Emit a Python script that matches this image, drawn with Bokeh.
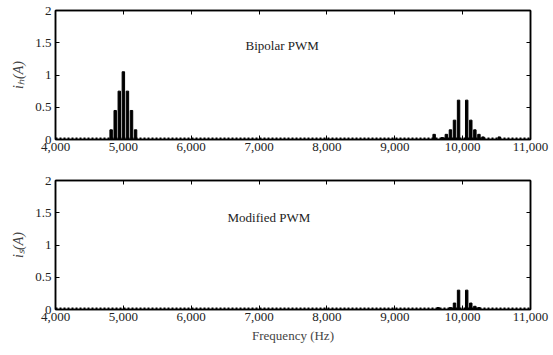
from bokeh.plotting import figure
from bokeh.layouts import column
from bokeh.models import LinearAxis, NumeralTickFormatter, FixedTicker, Range1d, Label
from bokeh.embed import file_html
from bokeh.resources import INLINE

# Data: harmonic spectrum (Hz, A)
bip_freq = [4820, 4880, 4940, 5000, 5060, 5120, 5180,
            9580, 9700, 9760, 9820, 9880, 9940, 10060, 10120, 10180, 10240, 10300, 10540]
bip_amp = [0.15, 0.45, 0.75, 1.05, 0.75, 0.45, 0.15,
           0.08, 0.03, 0.08, 0.15, 0.30, 0.61, 0.61, 0.30, 0.15, 0.08, 0.04, 0.04]

mod_freq = [9640, 9820, 9880, 9940, 10060, 10120, 10180, 10240]
mod_amp = [0.03, 0.03, 0.10, 0.30, 0.30, 0.10, 0.05, 0.03]

x_ticks = [4000, 5000, 6000, 7000, 8000, 9000, 10000, 11000]
y_ticks = [0, 0.5, 1, 1.5, 2]
titles = ["Bipolar PWM", "Modified PWM"]
ylabels = ["i\u2095(A)", "i\u209b(A)"]

FONT = "Liberation Serif"


def make_panel(freq, amp, title, ylabel, height, top, bottom, xlabel, title_xy):
    p = figure(width=553, height=height, output_backend="svg", toolbar_location=None,
               x_range=Range1d(4000, 11000), y_range=Range1d(0, 2),
               min_border_left=55, min_border_right=23, min_border_top=top,
               min_border_bottom=bottom, x_axis_location=None, y_axis_location=None)
    p.grid.visible = False
    p.outline_line_color = "black"
    p.outline_line_width = 1.5
    p.background_fill_color = "white"
    p.border_fill_color = "white"

    def style(ax, labels=True):
        ax.axis_line_color = "black"
        ax.axis_line_width = 1.5
        ax.major_tick_in = 4
        ax.major_tick_out = 0
        ax.major_tick_line_color = "black"
        ax.minor_tick_line_color = None
        ax.major_label_text_font = FONT
        ax.major_label_text_font_size = "13px"
        ax.major_label_text_color = "#222222"
        ax.axis_label_text_font = FONT
        ax.axis_label_text_font_size = "13px"
        ax.axis_label_text_font_style = "normal"
        if not labels:
            ax.major_label_text_color = None
            ax.major_label_standoff = 0

    xb = LinearAxis(ticker=FixedTicker(ticks=x_ticks), formatter=NumeralTickFormatter(format="0,0"))
    style(xb)
    xb.major_label_standoff = 3
    if xlabel:
        xb.axis_label = xlabel
        xb.axis_label_standoff = 4
    p.add_layout(xb, "below")

    yl = LinearAxis(ticker=FixedTicker(ticks=y_ticks), axis_label=ylabel)
    style(yl)
    yl.major_label_standoff = 4
    yl.axis_label_standoff = 6
    yl.axis_label_text_font_style = "italic"
    yl.axis_label_text_font_size = "14px"
    p.add_layout(yl, "left")

    xt = LinearAxis(ticker=FixedTicker(ticks=x_ticks))
    style(xt, labels=False)
    p.add_layout(xt, "above")
    yr = LinearAxis(ticker=FixedTicker(ticks=y_ticks))
    style(yr, labels=False)
    p.add_layout(yr, "right")

    # dotted noise floor along the baseline
    p.line([4000, 11000], [0.012, 0.012], line_color="black", line_width=2.5, line_dash="2 2")
    p.vbar(x=freq, top=amp, bottom=0, width=36, fill_color="black", line_color="black")

    p.add_layout(Label(x=title_xy[0], y=title_xy[1], text=title, text_font=FONT,
                       text_font_size="13px", text_align="center", text_baseline="middle",
                       text_color="#222222"))
    return p


p1 = make_panel(bip_freq, bip_amp, titles[0], ylabels[0], 165, 10, 26, None, (7340, 1.46))
p2 = make_panel(mod_freq, mod_amp, titles[1], ylabels[1], 190, 15, 46, "Frequency (Hz)", (7145, 1.43))

p = column(p1, p2, spacing=0)
open("out.html", "w").write(file_html(p, INLINE))
